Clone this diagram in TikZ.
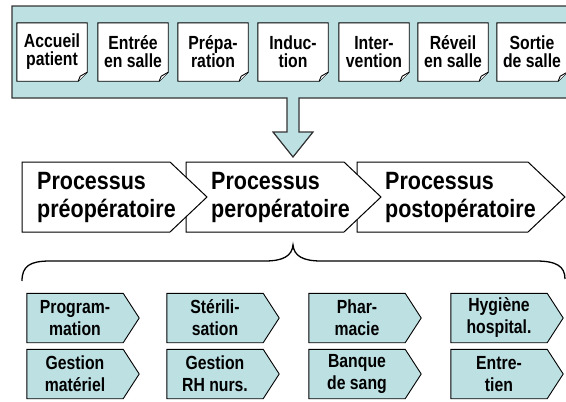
\documentclass[tikz,border=0pt]{standalone}
\usepackage{fontspec}
\setmainfont{Liberation Sans}
\newfontfamily\nfont[FakeStretch=0.83]{Liberation Sans}
\newfontfamily\pfont[FakeStretch=0.86]{Liberation Sans}
\definecolor{lblue}{HTML}{BDE0E3}
\definecolor{edge}{HTML}{333333}
\pgfdeclarelayer{bg}
\pgfdeclarelayer{mid}
\pgfsetlayers{bg,mid,main}
\tikzset{
 notetext/.style={font=\nfont\bfseries\fontsize{19}{18}\selectfont, align=center, minimum width=70pt, minimum height=58pt, inner sep=0pt},
 noteline/.style={draw=black, fill=white, line width=0.9pt, line join=miter},
 proctext/.style={font=\pfont\bfseries\fontsize{25}{28}\selectfont, align=left, anchor=west, inner sep=0pt},
 procline/.style={draw=black, fill=white, line width=1pt},
 svctext/.style={font=\nfont\bfseries\fontsize{19}{22}\selectfont, align=center, minimum width=96pt, minimum height=49pt, inner sep=0pt},
 svcline/.style={draw=black, fill=lblue, line width=0.9pt},
 band/.style={fill=lblue, draw=edge, line width=1.2pt},
 bracel/.style={draw=black, line width=1.3pt}
}
\newcommand{\mknote}[3]{%
  \node[notetext] (#1) at (#2,52) {#3};
  \begin{pgfonlayer}{mid}
  \draw[noteline] (#1.north west) -- (#1.north east) -- ([yshift=9pt]#1.south east) -- ([xshift=-9pt]#1.south east) -- (#1.south west) -- cycle;
  \draw[noteline] ([xshift=-9pt]#1.south east) -- ([xshift=-7pt,yshift=5pt]#1.south east) -- ([yshift=9pt]#1.south east);
  \end{pgfonlayer}}
\newcommand{\mksvc}[4]{%
  \node[svctext] (#1) at (#2,#3) {#4};
  \begin{pgfonlayer}{mid}
  \draw[svcline] (#1.north west) -- (#1.north east) -- ([xshift=16pt]#1.east) -- (#1.south east) -- (#1.south west) -- cycle;
  \end{pgfonlayer}}
\begin{document}
\begin{tikzpicture}[x=1pt,y=-1pt]
\useasboundingbox (0,0) rectangle (566,402);
% band with arrow
\begin{pgfonlayer}{bg}
\path[band] (570,6) -- (12,6) -- (12,98) -- (287,98) -- (287,132) -- (273,132) -- (293,157) -- (313,132) -- (299,132) -- (299,98) -- (570,98);
\end{pgfonlayer}
\mknote{n1}{52}{Accueil\\patient}
\mknote{n2}{133}{Entrée\\en salle}
\mknote{n3}{213}{Prépa-\\ration}
\mknote{n4}{293}{Induc-\\tion}
\mknote{n5}{374}{Inter-\\vention}
\mknote{n6}{453}{Réveil\\en salle}
\mknote{n7}{532}{Sortie\\de salle}
% process chevrons
\begin{pgfonlayer}{mid}
\draw[procline] (357,162) -- (528,162) -- (565,197) -- (528,232) -- (357,232) -- cycle;
\draw[procline] (186,162) -- (344,162) -- (381,197) -- (344,232) -- (186,232) -- cycle;
\draw[procline] (22,162) -- (170,162) -- (207,197) -- (170,232) -- (22,232) -- cycle;
\end{pgfonlayer}
\node[proctext] (p1) at (37,197) {Processus\\préopératoire};
\node[proctext] (p2) at (211,197) {Processus\\peropératoire};
\node[proctext] (p3) at (385,197) {Processus\\postopératoire};
% brace
\draw[bracel] (22,281) .. controls (22,266) and (30,261) .. (50,261) -- (265,261) .. controls (283,261) and (292,256) .. (293,245) .. controls (294,256) and (303,261) .. (321,261) -- (536,261) .. controls (556,261) and (565,266) .. (565,279);
% services
\mksvc{s1}{75}{318}{Program-\\mation}
\mksvc{s2}{215}{318}{Stérili-\\sation}
\mksvc{s3}{357}{318}{Phar-\\macie}
\mksvc{s4}{499}{318}{Hygiène\\hospital.}
\mksvc{s5}{75}{374}{Gestion\\matériel}
\mksvc{s6}{215}{374}{Gestion\\RH nurs.}
\mksvc{s7}{357}{374}{Banque\\de sang}
\mksvc{s8}{499}{374}{Entre-\\tien}
\end{tikzpicture}
\end{document}
